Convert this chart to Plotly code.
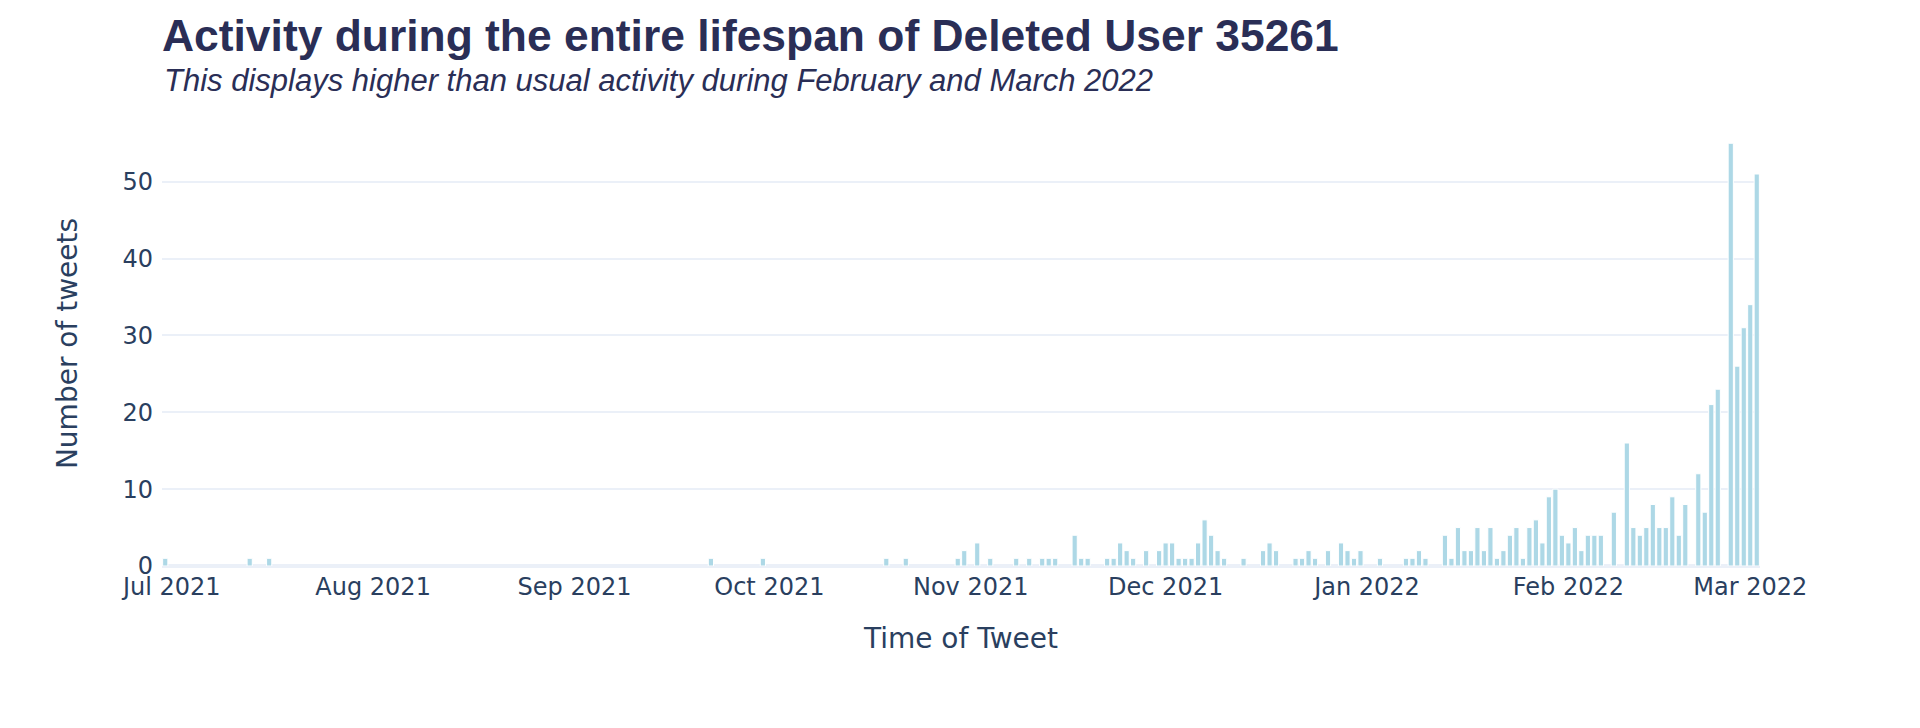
import plotly.graph_objects as go

dates = [
    "2021-06-30", "2021-07-13", "2021-07-16", "2021-09-22", "2021-09-30",
    "2021-10-19", "2021-10-22", "2021-10-30", "2021-10-31",
    "2021-11-02", "2021-11-04", "2021-11-08", "2021-11-10", "2021-11-12", "2021-11-13", "2021-11-14",
    "2021-11-17", "2021-11-18", "2021-11-19", "2021-11-22", "2021-11-23", "2021-11-24", "2021-11-25",
    "2021-11-26", "2021-11-28", "2021-11-30",
    "2021-12-01", "2021-12-02", "2021-12-03", "2021-12-04", "2021-12-05", "2021-12-06", "2021-12-07",
    "2021-12-08", "2021-12-09", "2021-12-10", "2021-12-13", "2021-12-16", "2021-12-17", "2021-12-18",
    "2021-12-21", "2021-12-22", "2021-12-23", "2021-12-24", "2021-12-26", "2021-12-28", "2021-12-29",
    "2021-12-30", "2021-12-31",
    "2022-01-03", "2022-01-07", "2022-01-08", "2022-01-09", "2022-01-10", "2022-01-13", "2022-01-14",
    "2022-01-15", "2022-01-16", "2022-01-17", "2022-01-18", "2022-01-19", "2022-01-20", "2022-01-21",
    "2022-01-22", "2022-01-23", "2022-01-24", "2022-01-25", "2022-01-26", "2022-01-27", "2022-01-28",
    "2022-01-29", "2022-01-30", "2022-01-31",
    "2022-02-01", "2022-02-02", "2022-02-03", "2022-02-04", "2022-02-05", "2022-02-06", "2022-02-08",
    "2022-02-10", "2022-02-11", "2022-02-12", "2022-02-13", "2022-02-14", "2022-02-15", "2022-02-16",
    "2022-02-17", "2022-02-18", "2022-02-19", "2022-02-21", "2022-02-22", "2022-02-23", "2022-02-24",
    "2022-02-26", "2022-02-27", "2022-02-28", "2022-03-01", "2022-03-02",
]
tweet_counts = [
    1, 1, 1, 1, 1,
    1, 1, 1, 2,
    3, 1, 1, 1, 1, 1, 1,
    4, 1, 1, 1, 1, 3, 2,
    1, 2, 2,
    3, 3, 1, 1, 1, 3, 6,
    4, 2, 1, 1, 2, 3, 2,
    1, 1, 2, 1, 2, 3, 2,
    1, 2,
    1, 1, 1, 2, 1, 4, 1,
    5, 2, 2, 5, 2, 5, 1,
    2, 4, 5, 1, 5, 6, 3,
    9, 10, 4,
    3, 5, 2, 4, 4, 4, 7,
    16, 5, 4, 5, 8, 5, 5,
    9, 4, 8, 12, 7, 21, 23,
    55, 26, 31, 34, 51,
]

title_text = "<b>Activity during the entire lifespan of Deleted User 35261</b>"
subtitle_text = "<i>This displays higher than usual activity during February and March 2022</i>"
x_title = "Time of Tweet"
y_title = "Number of tweets"

fig = go.Figure(
    go.Bar(
        x=dates,
        y=tweet_counts,
        marker=dict(color="lightblue", line=dict(color="white", width=1)),
    )
)

fig.update_layout(
    template="plotly_white",
    width=1920,
    height=728,
    margin=dict(l=154, r=168, t=113, b=170),
    font=dict(family="DejaVu Sans, Verdana, sans-serif", size=24, color="#2a3f5f"),
    title=dict(
        text=title_text,
        font=dict(family="Liberation Sans, Arial, sans-serif", size=44.4, color="#2a2e56"),
        xref="paper", x=0, xanchor="left",
        yref="container", y=0.962, yanchor="middle",
    ),
    annotations=[
        dict(
            text=subtitle_text,
            xref="paper", yref="paper", x=0, y=1.092,
            xanchor="left", yanchor="middle", showarrow=False,
            font=dict(family="Liberation Sans, Arial, sans-serif", size=31, color="#2a2e56"),
        )
    ],
    showlegend=False,
    bargap=0.2,
)
fig.update_xaxes(
    title=dict(text=x_title, font=dict(size=28), standoff=28),
    showgrid=False,
    dtick="M1",
    tickformat="%b %Y",
    ticklabelstandoff=4,
)
fig.update_yaxes(
    title=dict(text=y_title, font=dict(size=28), standoff=36),
    gridcolor="#EBF0F8",
    gridwidth=2,
    zerolinecolor="#EBF0F8",
    zerolinewidth=4,
    dtick=10,
    ticklabelstandoff=8,
)

fig.write_html("out.html")
